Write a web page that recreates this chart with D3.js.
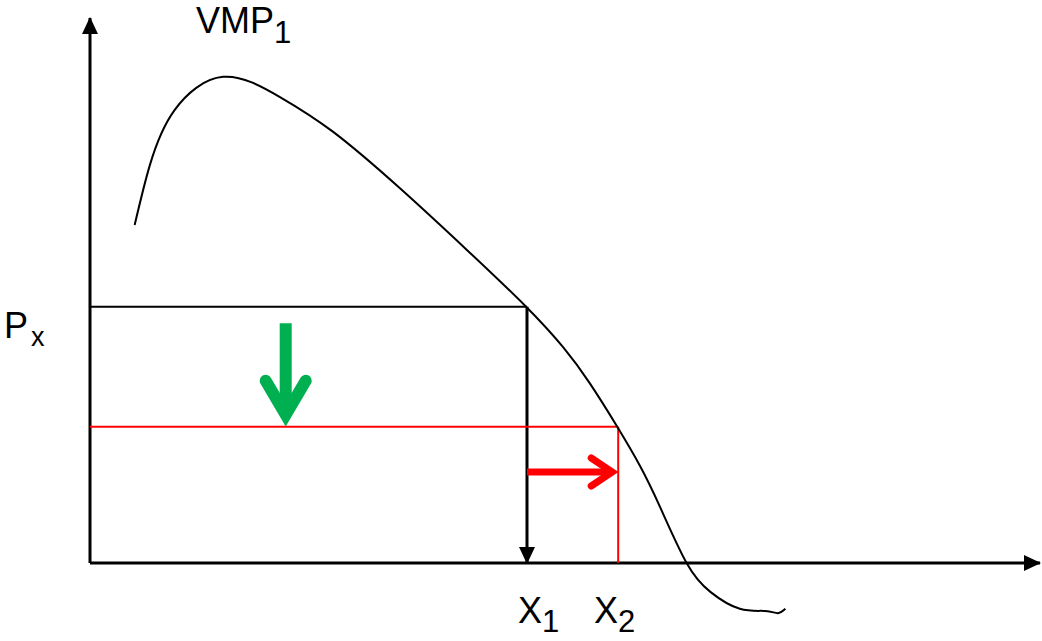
<!DOCTYPE html>
<html>
<head>
<meta charset="utf-8">
<script src="https://cdn.jsdelivr.net/npm/d3@7"></script>
<style>
  body { margin: 0; background: #fff; }
  text { font-family: "Liberation Sans", Arial, sans-serif; fill: #000; }
</style>
</head>
<body>
<div class="container"></div>
<script>
// VMP curve (quantity, value)
var curveX = [4.7, 6.3, 8.9, 14.0, 20.0, 25.6, 32.6, 39.7, 45.8, 49.8, 52.6, 55.5, 57.9, 60.0, 62.8, 65.3, 68.4, 71.1, 72.4, 73.2];
var curveY = [62.0, 73.0, 83.1, 89.2, 85.5, 79.1, 68.8, 57.4, 47.2, 39.6, 33.0, 25.0, 17.8, 10.3, 0, -5.3, -8.4, -8.8, -9.2, -8.4];

var prices = [47, 25];          // Px before, after
var quantities = [46, 55.6];    // X1, X2
var qtyLabels = ["1", "2"];
var greenShift = [44, 25];      // price drop arrow (from, to)
var greenAt = 20.6;
var redShiftAt = 16.7;          // quantity rise arrow height

var width = 1042,
    height = 641;

var svg = d3.select(".container")
    .append("svg")
    .attr("width", width)
    .attr("height", height);

var xscale = d3.scaleLinear().domain([0, 100]).range([90, 1040]);
var yscale = d3.scaleLinear().domain([0, 100]).range([563, 18]);

var defs = svg.append("defs");
defs.append("marker")
    .attr("id", "tri")
    .attr("markerUnits", "userSpaceOnUse")
    .attr("viewBox", "0 -8 17 16")
    .attr("refX", 16).attr("refY", 0)
    .attr("markerWidth", 17).attr("markerHeight", 16)
    .attr("orient", "auto")
    .append("path").attr("d", "M0,-8L17,0L0,8Z").attr("fill", "#000");

// axes
svg.append("line")
    .attr("x1", xscale(0)).attr("y1", yscale(0))
    .attr("x2", xscale(0)).attr("y2", yscale(100))
    .attr("stroke", "#000").attr("stroke-width", 3)
    .attr("marker-end", "url(#tri)");
svg.append("line")
    .attr("x1", xscale(0)).attr("y1", yscale(0))
    .attr("x2", xscale(100)).attr("y2", yscale(0))
    .attr("stroke", "#000").attr("stroke-width", 3)
    .attr("marker-end", "url(#tri)");

// black price line + drop to X1
svg.append("line")
    .attr("x1", xscale(0)).attr("y1", yscale(prices[0]))
    .attr("x2", xscale(quantities[0])).attr("y2", yscale(prices[0]))
    .attr("stroke", "#000").attr("stroke-width", 2);
svg.append("line")
    .attr("x1", xscale(quantities[0])).attr("y1", yscale(prices[0]))
    .attr("x2", xscale(quantities[0])).attr("y2", yscale(0))
    .attr("stroke", "#000").attr("stroke-width", 3)
    .attr("marker-end", "url(#tri)");

// red price line + drop to X2
svg.append("line")
    .attr("x1", xscale(0)).attr("y1", yscale(prices[1]))
    .attr("x2", xscale(quantities[1])).attr("y2", yscale(prices[1]))
    .attr("stroke", "#ff0000").attr("stroke-width", 2);
svg.append("line")
    .attr("x1", xscale(quantities[1])).attr("y1", yscale(prices[1]))
    .attr("x2", xscale(quantities[1])).attr("y2", yscale(0))
    .attr("stroke", "#ff0000").attr("stroke-width", 2);

// VMP curve
var line = d3.line()
    .x(function(d) { return xscale(d[0]); })
    .y(function(d) { return yscale(d[1]); })
    .curve(d3.curveNatural);
svg.append("path")
    .datum(d3.zip(curveX, curveY))
    .attr("d", line)
    .attr("fill", "none")
    .attr("stroke", "#000")
    .attr("stroke-width", 2);

// green arrow (price falls)
var gx = xscale(greenAt), gy0 = yscale(greenShift[0]), gy1 = yscale(greenShift[1]);
svg.append("line")
    .attr("x1", gx).attr("y1", gy0).attr("x2", gx).attr("y2", gy1 - 14)
    .attr("stroke", "#00b050").attr("stroke-width", 12);
svg.append("path")
    .attr("d", "M" + (gx - 20) + "," + (gy1 - 46) + "L" + gx + "," + (gy1 - 12) + "L" + (gx + 20) + "," + (gy1 - 46))
    .attr("fill", "none").attr("stroke", "#00b050").attr("stroke-width", 12)
    .attr("stroke-linecap", "round").attr("stroke-linejoin", "miter").attr("stroke-miterlimit", 10);

// red arrow (quantity rises)
var ry = yscale(redShiftAt), rx0 = xscale(quantities[0]), rx1 = xscale(quantities[1]);
svg.append("line")
    .attr("x1", rx0).attr("y1", ry).attr("x2", rx1 - 8).attr("y2", ry)
    .attr("stroke", "#ff0000").attr("stroke-width", 7);
svg.append("path")
    .attr("d", "M" + (rx1 - 27) + "," + (ry - 14) + "L" + (rx1 - 6) + "," + ry + "L" + (rx1 - 27) + "," + (ry + 14))
    .attr("fill", "none").attr("stroke", "#ff0000").attr("stroke-width", 7)
    .attr("stroke-linecap", "round").attr("stroke-linejoin", "miter").attr("stroke-miterlimit", 10);

// labels
var vmp = svg.append("text").attr("x", 196).attr("y", 33).style("font-size", "36px");
vmp.append("tspan").text("VMP");
vmp.append("tspan").attr("dy", 10).style("font-size", "31px").text("1");

var px = svg.append("text").attr("x", 4).attr("y", 338).style("font-size", "36px");
px.append("tspan").text("P");
px.append("tspan").attr("dy", 8).attr("dx", 3).style("font-size", "27px").text("x");

var labelLeft = [518, 594];
svg.selectAll(".xlab")
    .data(quantities)
    .enter()
    .append("text")
    .attr("class", "xlab")
    .attr("x", function(d, i) { return labelLeft[i]; })
    .attr("y", 623)
    .style("font-size", "36px")
    .each(function(d, i) {
      var t = d3.select(this);
      t.append("tspan").text("X");
      t.append("tspan").attr("dy", 9).style("font-size", "31px").text(qtyLabels[i]);
    });
</script>
</body>
</html>
